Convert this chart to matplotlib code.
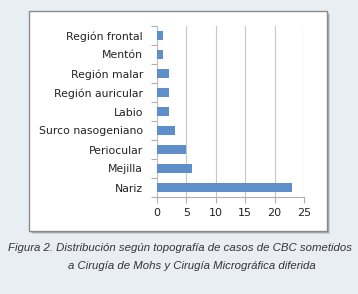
import matplotlib.pyplot as plt
from matplotlib.patches import Rectangle

# Data
regions = ["Nariz", "Mejilla", "Periocular", "Surco nasogeniano", "Labio",
           "Región auricular", "Región malar", "Mentón", "Región frontal"]
cases = [23, 6, 5, 3, 2, 2, 2, 1, 1]
x_ticks = [0, 5, 10, 15, 20, 25]

W, H = 358, 294
fig = plt.figure(figsize=(W / 100, H / 100), dpi=100)
fig.patch.set_facecolor("#e8eef2")

# white card with soft shadow
for off, alpha in [(3, 0.12), (2, 0.18), (1, 0.25)]:
    fig.patches.append(Rectangle(((29 + off) / W, 1 - (231 + off) / H), 298 / W, 220 / H,
                                 transform=fig.transFigure, facecolor="black",
                                 alpha=alpha, edgecolor="none", zorder=0))
fig.patches.append(Rectangle((29 / W, 1 - 231 / H), 298 / W, 220 / H,
                             transform=fig.transFigure, facecolor="white",
                             edgecolor="#8a8a8a", linewidth=1.0, zorder=1))

ax = fig.add_axes([157 / W, 1 - 197 / H, 147 / W, 171 / H])
ax.set_facecolor("none")
ax.set_zorder(2)
ypos = range(len(regions))
ax.barh(ypos, cases, height=0.45, color="#5f8fca", zorder=3)

ax.set_xlim(0, 25)
ax.set_ylim(-0.5, len(regions) - 0.5)
ax.set_xticks(x_ticks)
ax.set_yticks(list(ypos))
ax.set_yticklabels(regions)
ax.set_yticks([i - 0.5 for i in range(len(regions) + 1)], minor=True)

ax.grid(axis="x", color="#c8c8c8", linewidth=0.8, zorder=0)
for s in ["top", "right"]:
    ax.spines[s].set_visible(False)
ax.spines["left"].set_color("#c0c0c0")
ax.spines["bottom"].set_color("#b0b0b0")
ax.spines["left"].set_linewidth(0.8)
ax.spines["bottom"].set_linewidth(0.8)

ax.tick_params(axis="y", which="major", length=0, pad=10, labelsize=7.8, labelcolor="#222222")
ax.tick_params(axis="y", which="minor", length=4, color="#b0b0b0", width=0.8)
ax.tick_params(axis="x", length=4, color="#b0b0b0", width=0.8, labelsize=8,
               labelcolor="#222222", pad=4)

cap_font = ["Liberation Sans", "DejaVu Sans"]
fig.text(180 / W, 1 - 248 / H,
         "Figura 2. Distribución según topografía de casos de CBC sometidos",
         ha="center", va="center", fontsize=8.2, style="italic", color="#333333",
         family=cap_font)
fig.text(192 / W, 1 - 266 / H,
         "a Cirugía de Mohs y Cirugía Micrográfica diferida",
         ha="center", va="center", fontsize=8.2, style="italic", color="#333333",
         family=cap_font)

fig.savefig("out.png", dpi=100, facecolor=fig.get_facecolor())
